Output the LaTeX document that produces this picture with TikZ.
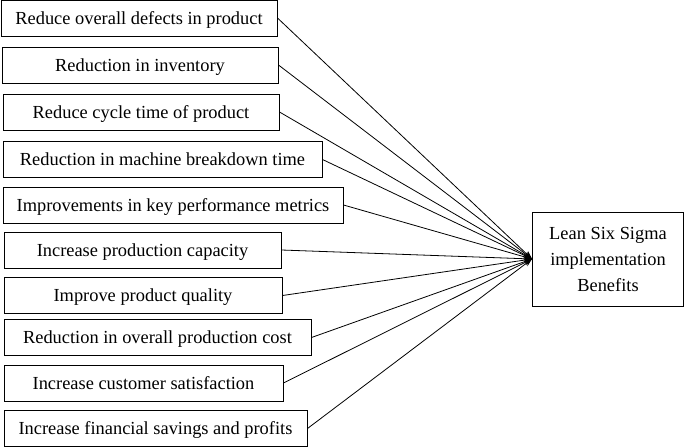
\documentclass[tikz,border=0pt]{standalone}
\usepackage{fontspec}
\setmainfont{Liberation Serif}
\usetikzlibrary{arrows.meta}
\tikzset{
  benefit/.style={draw, line width=1pt, minimum height=36pt, inner sep=0pt, text height=13pt, text depth=1pt, font=\fontsize{18.4}{22}\selectfont},
  goal/.style={draw, line width=1pt, minimum width=151pt, minimum height=94pt, align=center, font=\fontsize{18.4}{26}\selectfont},
  link/.style={-{Stealth[length=8pt,width=6pt]}, line width=0.8pt}
}

\begin{document}
\begin{tikzpicture}[x=1pt,y=-1pt]
\useasboundingbox (0,0) rectangle (685,447);
% Benefit boxes
\node[benefit, minimum width=276pt] (b1) at (139,18) {Reduce overall defects in product};
\node[benefit, minimum width=276pt] (b2) at (140,65) {Reduction in inventory};
\node[benefit, minimum width=276pt] (b3) at (141,112) {Reduce cycle time of product};
\node[benefit, minimum width=319pt] (b4) at (162.5,159.5) {Reduction in machine breakdown time};
\node[benefit, minimum width=340pt] (b5) at (173,205) {Improvements in key performance metrics};
\node[benefit, minimum width=277pt] (b6) at (142.5,250) {Increase production capacity};
\node[benefit, minimum width=278pt] (b7) at (143,295.5) {Improve product quality};
\node[benefit, minimum width=307pt] (b8) at (157.5,337.5) {Reduction in overall production cost};
\node[benefit, minimum width=279pt] (b9) at (143.5,383) {Increase customer satisfaction};
\node[benefit, minimum width=303pt] (b10) at (155.5,428.5) {Increase financial savings and profits};

% Lean Six Sigma box
\node[goal] (lss) at (608,259) {Lean Six Sigma\\implementation\\Benefits};

% Links
\draw[link] (b1.east) -- (lss.west);
\draw[link] (b2.east) -- (lss.west);
\draw[link] (b3.east) -- (lss.west);
\draw[link] (b4.east) -- (lss.west);
\draw[link] (b5.east) -- (lss.west);
\draw[link] (b6.east) -- (lss.west);
\draw[link] (b7.east) -- (lss.west);
\draw[link] (b8.east) -- (lss.west);
\draw[link] (b9.east) -- (lss.west);
\draw[link] (b10.east) -- (lss.west);
\end{tikzpicture}
\end{document}
